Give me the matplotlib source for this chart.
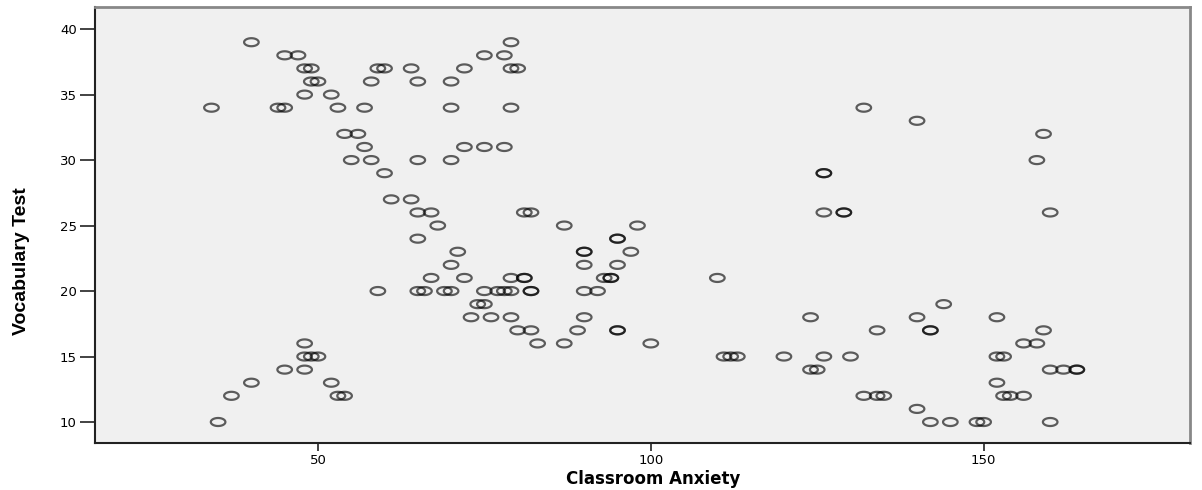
import matplotlib
matplotlib.use("Agg")
import matplotlib.pyplot as plt
import numpy as np
from matplotlib.path import Path

# scores, one row per vocabulary score
anxiety = [
    40, 79,
    45, 47, 75, 78,
    48, 49, 59, 60, 64, 72, 79, 80,
    49, 50, 58, 65, 70,
    48, 52,
    34, 44, 45, 53, 57, 70, 79, 132,
    140,
    54, 56, 159,
    57, 72, 75, 78,
    55, 58, 65, 70, 158,
    60, 126, 126,
    61, 64,
    65, 67, 81, 82, 126, 129, 129, 160,
    68, 87, 98,
    65, 95, 95,
    71, 90, 90, 97,
    70, 90, 95,
    67, 72, 79, 81, 81, 93, 94, 94, 110,
    59, 65, 66, 69, 70, 75, 77, 78, 79, 82, 82, 90, 92,
    74, 75, 144,
    73, 76, 79, 90, 124, 140, 152,
    80, 82, 89, 95, 95, 134, 142, 142, 159,
    48, 83, 87, 100, 156, 158,
    48, 49, 50, 111, 112, 113, 120, 126, 130, 152, 153,
    45, 48, 124, 125, 160, 162, 164, 164,
    40, 52, 152,
    37, 53, 54, 132, 134, 135, 153, 154, 156,
    140,
    35, 142, 145, 149, 150, 160,
]
vocab = (
    [39] * 2 + [38] * 4 + [37] * 8 + [36] * 5 + [35] * 2 + [34] * 8 + [33] * 1
    + [32] * 3 + [31] * 4 + [30] * 5 + [29] * 3 + [27] * 2 + [26] * 8 + [25] * 3
    + [24] * 3 + [23] * 4 + [22] * 3 + [21] * 9 + [20] * 13 + [19] * 3 + [18] * 7
    + [17] * 9 + [16] * 6 + [15] * 11 + [14] * 8 + [13] * 3 + [12] * 9 + [11] * 1
    + [10] * 6
)

# the original picture is stretched sideways, so the circles are ellipses
t = np.linspace(0, 2 * np.pi, 60)
ellipse = Path(np.column_stack([np.cos(t), 0.55 * np.sin(t)]), closed=True)

fig = plt.figure(figsize=(12.02, 4.9), dpi=100)
ax = fig.add_axes([0.079, 0.096, 0.911, 0.89])
ax.set_facecolor("#f0f0f0")

ax.scatter(anxiety, vocab, marker=ellipse, s=110, facecolors="none",
           edgecolors=(0, 0, 0, 0.62), linewidths=1.6)

ax.set_xlim(16.5, 181)
ax.set_ylim(8.4, 41.7)
ax.set_xticks([50, 100, 150])
ax.set_yticks([10, 15, 20, 25, 30, 35, 40])

for side in ["top", "right"]:
    ax.spines[side].set_color("#888888")
    ax.spines[side].set_linewidth(2)
for side in ["left", "bottom"]:
    ax.spines[side].set_color("#222222")
    ax.spines[side].set_linewidth(1.5)

ax.tick_params(direction="out", width=1.2, color="#222222", labelsize=9.5)
ax.tick_params(axis="x", length=6, pad=2)
ax.tick_params(axis="y", length=11, pad=2)
for lab in ax.get_xticklabels() + ax.get_yticklabels():
    lab.set_family("DejaVu Sans")

ax.set_xlabel("Classroom Anxiety", fontsize=12, fontweight="bold",
              family="DejaVu Sans")
ax.xaxis.set_label_coords(0.51, -0.062)
ax.set_ylabel("Vocabulary Test", fontsize=14, fontweight="bold",
              family=["Liberation Sans Narrow", "Liberation Sans", "DejaVu Sans"])
ax.yaxis.set_label_coords(-0.059, 0.417)

fig.savefig("out.png", dpi=100)
